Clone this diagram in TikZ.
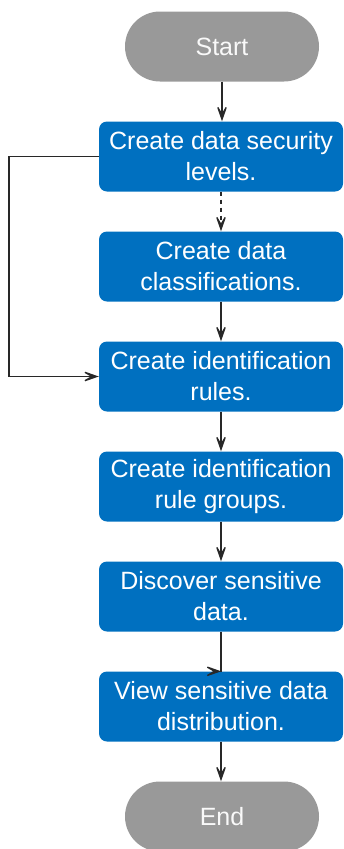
\documentclass[tikz,border=0pt]{standalone}
\usepackage{fontspec}
\setmainfont{Liberation Sans}
\usetikzlibrary{arrows.meta}
\definecolor{boxblue}{RGB}{0,112,192}
\definecolor{pillgray}{RGB}{153,153,153}
\definecolor{linegray}{RGB}{40,40,40}
\begin{document}
\begin{tikzpicture}[x=1pt,y=1pt,
  stepbox/.style={rectangle, rounded corners=8pt, fill=boxblue, text=white,
    minimum width=244pt, minimum height=70pt, inner sep=0pt,
    align=center, font=\fontsize{25}{31}\selectfont},
  pill/.style={rectangle, rounded corners=35pt, fill=pillgray, text=white!95!gray,
    minimum width=194pt, minimum height=70pt, inner sep=0pt,
    font=\fontsize{25}{31}\selectfont},
  conn/.style={draw=linegray, line width=1.3pt,
    -{Stealth[length=20pt,width=14pt,inset=12pt]}}]
\useasboundingbox (0,0) rectangle (344,-849);
\node[pill] (start) at (222,-46.5) {Start};
\node[stepbox] (b1) at (221,-156.5) {Create data security\\levels.};
\node[stepbox] (b2) at (221,-266.5) {Create data\\classifications.};
\node[stepbox] (b3) at (221,-376.5) {Create identification\\rules.};
\node[stepbox] (b4) at (221,-486.5) {Create identification\\rule groups.};
\node[stepbox] (b5) at (221,-596.5) {Discover sensitive\\data.};
\node[stepbox] (b6) at (221,-706.5) {View sensitive data\\distribution.};
\node[pill] (end) at (222,-816.5) {End};
\coordinate (loopa) at (9,-156.5);
\coordinate (loopb) at (9,-376.5);
\draw[conn] (start.south) -- (start.south |- b1.north);
\draw[conn, dash pattern=on 4pt off 4pt] (b1.south) -- (b2.north);
\draw[conn] (b2.south) -- (b3.north);
\draw[conn] (b3.south) -- (b4.north);
\draw[conn] (b4.south) -- (b5.north);
\draw[conn] (b5.south) |- ([xshift=0.2pt]b6.north);
\draw[conn] (b6.south) -- (b6.south |- end.north);
\draw[conn] (b1.west) -- (loopa) -- (loopb) -- (b3.west);
\end{tikzpicture}
\end{document}
